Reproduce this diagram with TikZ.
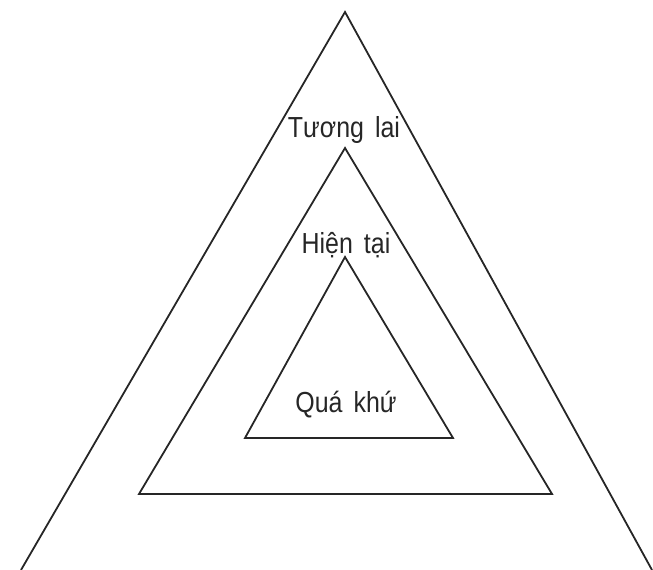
\documentclass[tikz,border=0pt]{standalone}
\usepackage{fontspec}
\setmainfont{Liberation Sans}[FakeStretch=0.86,WordSpace=1.6]
\begin{document}
\begin{tikzpicture}[x=1pt,y=-1pt,
  tri/.style={draw=black!85,line width=1.8pt,line join=miter},
  lbl/.style={font=\fontsize{29}{31}\selectfont,anchor=base,inner sep=0pt,text=black!85}]
\useasboundingbox (0,0) rectangle (653,570);
% outer triangle
\coordinate (oa) at (345,12);
\coordinate (ol) at (21,570);
\coordinate (or) at (652,570);
\draw[tri] (ol) -- (oa) -- (or);
\draw[black!25,line width=1pt] (ol) -- (or);
% middle triangle
\coordinate (ma) at (345,148);
\coordinate (ml) at (139,494);
\coordinate (mr) at (552,494);
\draw[tri] (ma) -- (ml) -- (mr) -- cycle;
% inner triangle
\coordinate (ia) at (345,257);
\coordinate (il) at (245,438);
\coordinate (ir) at (453,438);
\draw[tri] (ia) -- (il) -- (ir) -- cycle;
% labels
\node[lbl] (t1) at (344,137) {Tương lai};
\node[lbl] (t2) at (346,253) {Hiện tại};
\node[lbl] (t3) at (346,412) {Quá khứ};
\end{tikzpicture}
\end{document}
